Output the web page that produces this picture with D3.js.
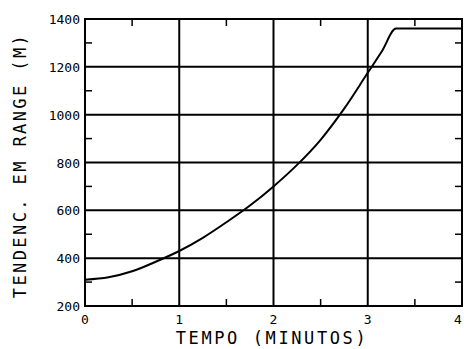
<!DOCTYPE html>
<html>
<head>
<meta charset="utf-8">
<script src="https://cdn.jsdelivr.net/npm/d3@7"></script>
<style>
body { margin: 0; background: #fff; }
text { font-family: "DejaVu Sans Mono", monospace; fill: #000; }
</style>
</head>
<body>
<div id="chart"></div>
<script>
// curve
let tempo = [0, 0.25, 0.5, 0.75, 1, 1.25, 1.5, 1.75, 2, 2.25, 2.5, 2.75, 3, 3.15, 3.3, 3.35, 4];
let range = [310, 320, 345, 385, 430, 485, 550, 620, 700, 790, 895, 1025, 1175, 1265, 1360, 1360, 1360];

let xTicks = [0, 1, 2, 3, 4];
let yTicks = [200, 400, 600, 800, 1000, 1200, 1400];
let xMinor = [0.5, 1.5, 2.5, 3.5];
let yMinor = [300, 500, 700, 900, 1100, 1300];

let panel = { width: 464, height: 349 };
let margin = { left: 85, right: 2, top: 19, bottom: 43 };

let svg = d3.select("#chart").append("svg")
	.attr("width", panel.width)
	.attr("height", panel.height);

let x = d3.scaleLinear().domain([0, 4]).range([margin.left, panel.width - margin.right]);
let y = d3.scaleLinear().domain([200, 1400]).range([panel.height - margin.bottom, margin.top]);

// grid
svg.append("g").selectAll("line")
	.data(xTicks)
	.enter().append("line")
	.attr("x1", d => x(d)).attr("x2", d => x(d))
	.attr("y1", y(200)).attr("y2", y(1400))
	.attr("stroke", "#000").attr("stroke-width", 2);
svg.append("g").selectAll("line")
	.data(yTicks)
	.enter().append("line")
	.attr("x1", x(0)).attr("x2", x(4))
	.attr("y1", d => y(d)).attr("y2", d => y(d))
	.attr("stroke", "#000").attr("stroke-width", 2);

// minor ticks, inside on all four sides
let tk = 7;
let minor = svg.append("g").attr("stroke", "#000").attr("stroke-width", 1.5);
xMinor.forEach(d => {
	minor.append("line").attr("x1", x(d)).attr("x2", x(d)).attr("y1", y(200)).attr("y2", y(200) - tk);
	minor.append("line").attr("x1", x(d)).attr("x2", x(d)).attr("y1", y(1400)).attr("y2", y(1400) + tk);
});
yMinor.forEach(d => {
	minor.append("line").attr("x1", x(0)).attr("x2", x(0) + tk).attr("y1", y(d)).attr("y2", y(d));
	minor.append("line").attr("x1", x(4)).attr("x2", x(4) - tk).attr("y1", y(d)).attr("y2", y(d));
});

// frame
svg.append("rect")
	.attr("x", x(0)).attr("y", y(1400))
	.attr("width", x(4) - x(0)).attr("height", y(200) - y(1400))
	.attr("fill", "none").attr("stroke", "#000").attr("stroke-width", 2);

// curve
let line = d3.line()
	.x((d, i) => x(tempo[i]))
	.y(d => y(d))
	.curve(d3.curveMonotoneX);
svg.append("path")
	.datum(range)
	.attr("d", line)
	.attr("fill", "none")
	.attr("stroke", "#000")
	.attr("stroke-width", 2);

// tick labels
svg.append("g").selectAll("text")
	.data(xTicks)
	.enter().append("text")
	.attr("x", d => d === 4 ? x(d) - 4 : x(d))
	.attr("y", y(200) + 18)
	.attr("text-anchor", "middle")
	.attr("font-size", 13)
	.text(d => d);
svg.append("g").selectAll("text")
	.data(yTicks)
	.enter().append("text")
	.attr("x", x(0) - 5)
	.attr("y", d => y(d) + 5)
	.attr("text-anchor", "end")
	.attr("font-size", 13)
	.text(d => d);

// axis titles
svg.append("text")
	.attr("x", 272)
	.attr("y", panel.height - 5)
	.attr("text-anchor", "middle")
	.attr("font-size", 17)
	.attr("letter-spacing", 2.6)
	.text("TEMPO  (MINUTOS)");
svg.append("text")
	.attr("transform", "translate(26," + ((y(200) + y(1400)) / 2 + 3) + ") rotate(-90)")
	.attr("text-anchor", "middle")
	.attr("font-size", 17)
	.attr("letter-spacing", 2.4)
	.text("TENDENC. EM RANGE  (M)");
</script>
</body>
</html>
